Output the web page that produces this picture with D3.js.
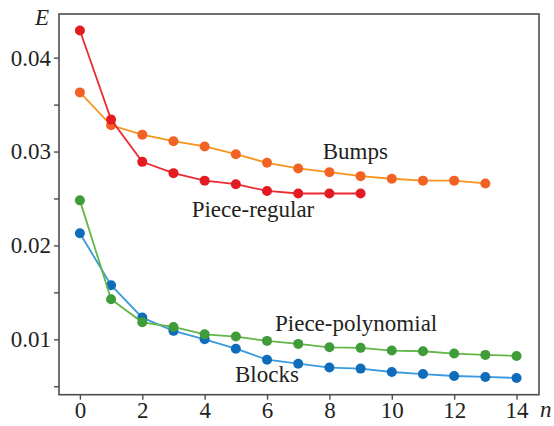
<!DOCTYPE html>
<html><head><meta charset="utf-8">
<script src="https://cdn.jsdelivr.net/npm/d3@7"></script>
<style>body{margin:0;background:#fff}svg{display:block}</style>
</head><body><svg id="c" width="554" height="426"></svg>
<script>
const n = d3.range(0, 15);
const blocks = [0.0213,0.01576,0.01231,0.0109,0.0100,0.0090,0.00783,0.0074,0.00699,0.00688,0.00652,0.0063,0.00609,0.00599,0.00588];
const piecePoly = [0.0248,0.01426,0.01181,0.01132,0.01053,0.01029,0.00983,0.00951,0.00915,0.00909,0.0088,0.00873,0.00848,0.00834,0.00823];
const bumps = [0.0363,0.0328,0.0318,0.0311,0.03054,0.02972,0.0288,0.0282,0.0278,0.02738,0.0271,0.0269,0.0269,0.0266];
const pieceReg = [0.0429,0.0334,0.0289,0.0277,0.0269,0.02652,0.0258,0.02553,0.02553,0.02553];
const xTicks = [0,2,4,6,8,10,12,14];
const yTicks = [0.005,0.01,0.015,0.02,0.025,0.03,0.035,0.04];

const FONT = "Liberation Serif";
const svg = d3.select("#c");
const L=59,R=539,T=14,B=394.7;
const x = d3.scaleLinear().domain([-0.67,14.72]).range([L,R]);
const y = d3.scaleLinear().domain([0.0041,0.04465]).range([B,T]);

svg.append("rect").attr("x",L).attr("y",T).attr("width",R-L).attr("height",B-T)
  .attr("fill","none").attr("stroke","#4d4d4f").attr("stroke-width",1.6);

const ya = svg.append("g").attr("transform",`translate(${L},0)`)
  .call(d3.axisLeft(y).tickValues(yTicks).tickSize(5).tickPadding(3)
    .tickFormat(d => (Math.round(d*1000)%10===0) ? d3.format(".2f")(d) : ""));
ya.attr("font-family", FONT).attr("font-size", 23);
ya.select(".domain").remove();
ya.selectAll("line").attr("stroke","#4d4d4f").attr("stroke-width",1.4);
ya.selectAll("text").attr("fill","#231f20");

const xa = svg.append("g").attr("transform",`translate(0,${B})`)
  .call(d3.axisBottom(x).tickValues(xTicks).tickSize(5).tickPadding(2));
xa.attr("font-family", FONT).attr("font-size", 23);
xa.select(".domain").remove();
xa.selectAll("line").attr("stroke","#4d4d4f").attr("stroke-width",1.4);
xa.selectAll("text").attr("fill","#231f20");

svg.append("text").attr("x",35).attr("y",25).attr("font-family",FONT).attr("font-size",23).attr("font-style","italic").attr("fill","#231f20").text("E");
svg.append("text").attr("x",540).attr("y",416.5).attr("font-family",FONT).attr("font-size",23).attr("font-style","italic").attr("fill","#231f20").text("n");

const series = [
  {v: blocks, line:"#3a9ade", pt:"#0f6cbb"},
  {v: piecePoly, line:"#62b649", pt:"#3f9c39"},
  {v: bumps, line:"#f7941d", pt:"#f26224"},
  {v: pieceReg, line:"#ec2a32", pt:"#e31b23"}
];
const line = d3.line().x((d,i)=>x(n[i])).y(d=>y(d));
series.forEach(s=>{
  const g = svg.append("g");
  g.append("path").datum(s.v).attr("d",line).attr("fill","none").attr("stroke",s.line).attr("stroke-width",1.8);
  g.selectAll("circle").data(s.v).join("circle")
    .attr("cx",(d,i)=>x(n[i])).attr("cy",d=>y(d)).attr("r",5).attr("fill",s.pt);
});

const labels = [
  {t:"Bumps", x:322.7, y:159},
  {t:"Piece-regular", x:191.7, y:217.3},
  {t:"Piece-polynomial", x:275, y:331},
  {t:"Blocks", x:235, y:382.3}
];
svg.selectAll("text.lab").data(labels).join("text").attr("class","lab")
  .attr("x",d=>d.x).attr("y",d=>d.y).attr("font-family",FONT).attr("font-size",23).attr("fill","#231f20").text(d=>d.t);
</script></body></html>
